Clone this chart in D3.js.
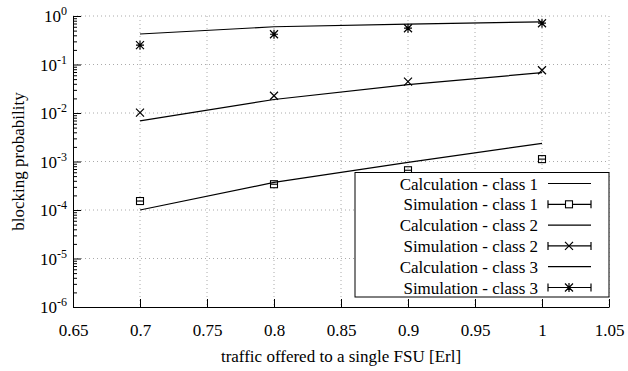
<!DOCTYPE html>
<html><head><meta charset="utf-8">
<script src="https://cdn.jsdelivr.net/npm/d3@7"></script>
<style>body{margin:0;background:#fff}svg{display:block;font-family:"Liberation Serif","Times New Roman",serif}</style>
</head><body><svg id="c" width="628" height="371"></svg>
<script>
const xs = [0.7, 0.8, 0.9, 1.0];
const calc1 = [1.0e-4, 3.7e-4, 9.6e-4, 2.37e-3];
const sim1  = [1.53e-4, 3.4e-4, 6.6e-4, 1.12e-3];
const calc2 = [0.0069, 0.0190, 0.0385, 0.0678];
const sim2  = [0.0102, 0.0227, 0.0442, 0.0760];
const calc3 = [0.425, 0.60, 0.68, 0.76];
const sim3  = [0.25, 0.42, 0.56, 0.71];
const xTicks = [0.65,0.7,0.75,0.8,0.85,0.9,0.95,1,1.05];
const xTickLabels = ["0.65","0.7","0.75","0.8","0.85","0.9","0.95","1","1.05"];
const yExp = [0,-1,-2,-3,-4,-5,-6];
const legendLabels = ["Calculation - class 1","Simulation - class 1","Calculation - class 2","Simulation - class 2","Calculation - class 3","Simulation - class 3"];

const svg = d3.select("#c");
const L=73, R=609, T=16, B=307;
const x = d3.scaleLinear().domain([0.65,1.05]).range([L,R]);
const y = d3.scaleLog().domain([1e-6,1]).range([B,T]);

// grid
const g = svg.append("g");
xTicks.slice(1).forEach(v=>g.append("line").attr("x1",x(v)).attr("x2",x(v)).attr("y1",T).attr("y2",B)
  .attr("stroke","#aaa").attr("stroke-width",1).attr("stroke-dasharray","1,3"));
yExp.slice(0,-1).forEach(e=>g.append("line").attr("x1",L).attr("x2",R).attr("y1",y(Math.pow(10,e))).attr("y2",y(Math.pow(10,e)))
  .attr("stroke","#aaa").attr("stroke-width",1).attr("stroke-dasharray","1,3"));

// axes
const xAxis = d3.axisBottom(x).tickValues(xTicks).tickFormat((d,i)=>xTickLabels[i]).tickSizeInner(-8).tickSizeOuter(0).tickPadding(17);
const ax = svg.append("g").attr("transform",`translate(0,${B})`).call(xAxis);
ax.selectAll("text").attr("font-size",17).attr("font-family","Liberation Serif").attr("fill","#000");
ax.select(".domain").attr("stroke","#000");
ax.selectAll(".tick line").attr("stroke","#000");

const minor=[];
for(let e=-6;e<0;e++) for(let k=2;k<=9;k++) minor.push(k*Math.pow(10,e));
const yAxisMinor = d3.axisLeft(y).tickValues(minor).tickFormat("").tickSizeInner(-4).tickSizeOuter(0);
svg.append("g").attr("transform",`translate(${L},0)`).call(yAxisMinor).selectAll("line,path").attr("stroke","#000");
const yAxis = d3.axisLeft(y).tickValues(yExp.map(e=>Math.pow(10,e))).tickFormat("").tickSizeInner(-8).tickSizeOuter(0);
const ay = svg.append("g").attr("transform",`translate(${L},0)`).call(yAxis);
ay.selectAll("line,path").attr("stroke","#000");
yExp.forEach(e=>{
  const t = svg.append("text").attr("x",67).attr("y",y(Math.pow(10,e))+6).attr("text-anchor","end").attr("font-size",17);
  t.append("tspan").text("10");
  t.append("tspan").attr("dy",-7).attr("font-size",12).text(String(e).replace("-","-"));
});

// axis titles
svg.append("text").attr("x",(L+R)/2).attr("y",362).attr("text-anchor","middle").attr("font-size",17).text("traffic offered to a single FSU [Erl]");
svg.append("text").attr("transform",`translate(24,${(T+B)/2}) rotate(-90)`).attr("text-anchor","middle").attr("font-size",17).text("blocking probability");

// lines
const line = d3.line().x((d,i)=>x(xs[i])).y(d=>y(d));
[calc1,calc2,calc3].forEach(s=>svg.append("path").attr("d",line(s)).attr("fill","none").attr("stroke","#000").attr("stroke-width",1.2));

// markers
function square(gg,cx,cy){
  gg.append("rect").attr("x",cx-3.5).attr("y",cy-3.5).attr("width",7).attr("height",7).attr("fill","none").attr("stroke","#000").attr("stroke-width",1.1);
  gg.append("line").attr("x1",cx-3.5).attr("x2",cx+3.5).attr("y1",cy).attr("y2",cy).attr("stroke","#000").attr("stroke-width",1.1);
}
function cross(gg,cx,cy){
  const s=4;
  gg.append("path").attr("d",`M${cx-s},${cy-s}L${cx+s},${cy+s}M${cx-s},${cy+s}L${cx+s},${cy-s}`).attr("stroke","#000").attr("stroke-width",1.2);
}
function star(gg,cx,cy){
  const s=4;
  gg.append("path").attr("d",`M${cx-s},${cy-s}L${cx+s},${cy+s}M${cx-s},${cy+s}L${cx+s},${cy-s}M${cx},${cy-s-0.5}L${cx},${cy+s+0.5}M${cx-s},${cy}L${cx+s},${cy}`).attr("stroke","#000").attr("stroke-width",1.2);
}
const mg = svg.append("g");
sim1.forEach((v,i)=>square(mg,x(xs[i]),y(v)));
sim2.forEach((v,i)=>cross(mg,x(xs[i]),y(v)));
sim3.forEach((v,i)=>star(mg,x(xs[i]),y(v)));

// legend
const lg = svg.append("g");
lg.append("rect").attr("x",355).attr("y",172.5).attr("width",254).attr("height",124.5).attr("fill","#fff").attr("stroke","#000").attr("stroke-width",1);
const markers=[null,square,null,cross,null,star];
legendLabels.forEach((lab,i)=>{
  const cy = 183.5 + i*20.8;
  lg.append("text").attr("x",538).attr("y",cy+6).attr("text-anchor","end").attr("font-size",17).text(lab);
  lg.append("line").attr("x1",548).attr("x2",591).attr("y1",cy).attr("y2",cy).attr("stroke","#000").attr("stroke-width",1.2);
  if(markers[i]){
    [548,591].forEach(xx=>lg.append("line").attr("x1",xx).attr("x2",xx).attr("y1",cy-4).attr("y2",cy+4).attr("stroke","#000").attr("stroke-width",1.2));
    if(i===1){lg.append("rect").attr("x",565.5).attr("y",cy-3.5).attr("width",7).attr("height",7).attr("fill","#fff").attr("stroke","#000").attr("stroke-width",1.1);}
    else markers[i](lg,569,cy);
  }
});
</script></body></html>
